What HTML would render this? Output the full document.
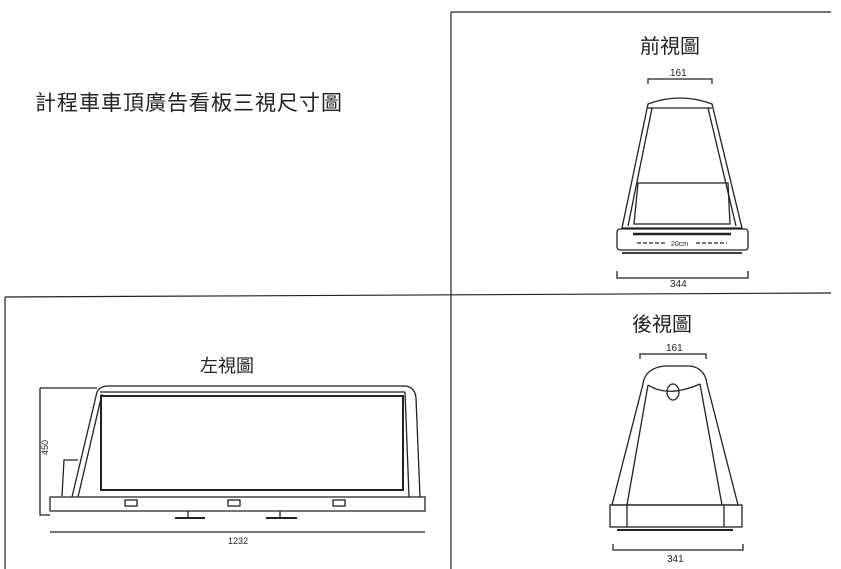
<!DOCTYPE html>
<html><head><meta charset="utf-8"><style>
html,body{margin:0;padding:0;background:#fff;}
svg{display:block;font-family:"Liberation Sans","Noto Sans CJK TC",sans-serif;}
</style></head><body>
<svg width="841" height="569" viewBox="0 0 841 569" xmlns="http://www.w3.org/2000/svg">
<rect width="841" height="569" fill="#fff"/>
<g stroke="#222" fill="none" stroke-width="1.2">
<line x1="451" y1="12" x2="451" y2="569"/>
<line x1="451" y1="12" x2="831" y2="12"/>
<line x1="5" y1="297" x2="831" y2="293"/>
<line x1="5" y1="297" x2="5" y2="569"/>
</g>
<text x="35" y="110" font-size="21" fill="#222" letter-spacing="1">計程車車頂廣告看板三視尺寸圖</text>
<text x="640" y="53" font-size="20" fill="#222">前視圖</text>
<text x="632" y="331" font-size="20" fill="#222">後視圖</text>
<text x="200" y="372" font-size="18" fill="#222">左視圖</text>

<g stroke="#222" fill="none" stroke-width="1.3">
<path d="M648 84 V79 H712 V84"/>
<path d="M648 104 Q680 92 712 104 L742 228 H622 Z"/>
<path d="M652 108 L628 226 M708 108 L736 226"/>
<line x1="648" y1="108" x2="712" y2="108"/>
<path d="M638 183 H728 L730 224 H634 Z"/>
<rect x="617" y="229" width="131" height="21" rx="3"/>
<line x1="633" y1="234" x2="731" y2="234" stroke-width="2.5"/>
<line x1="637" y1="243" x2="666" y2="243" stroke-dasharray="4,2"/>
<line x1="696" y1="243" x2="727" y2="243" stroke-dasharray="4,2"/>
<line x1="622" y1="253" x2="742" y2="253" stroke-width="1.8"/>
<path d="M617 271 V278 H748 V271"/>
</g>
<text x="670" y="76" font-size="10" fill="#222">161</text>
<text x="671" y="246" font-size="7" fill="#222">20cm</text>
<text x="670" y="287" font-size="10" fill="#222">344</text>

<g stroke="#222" fill="none" stroke-width="1.3">
<path d="M640 359 V354 H706 V359"/>
<path d="M643 384 Q645 368 665 366 H690 Q705 368 707 384 L738 505 H612 Z"/>
<path d="M648 385 L627 505 M700 384 L722 505"/>
<path d="M648 385 Q668 398 700 384"/>
<ellipse cx="673" cy="392" rx="6" ry="8"/>
<rect x="610" y="505" width="132" height="22"/>
<line x1="627" y1="505" x2="627" y2="527"/>
<line x1="724" y1="505" x2="724" y2="527"/>
<line x1="617" y1="530" x2="733" y2="530" stroke-width="2"/>
<path d="M613 544 V550 H743 V544"/>
</g>
<text x="666" y="351" font-size="10" fill="#222">161</text>
<text x="667" y="562" font-size="10" fill="#222">341</text>

<g stroke="#222" fill="none" stroke-width="1.3">
<path d="M40 388 H97 M40 388 V515 H50"/>
<path d="M72 497 L97 392 Q100 386 108 386 H405 Q415 387 416 398 L420 497"/>
<path d="M78 497 L102 394"/>
<path d="M62 496 L64 460 H78"/>
<line x1="100" y1="392" x2="405" y2="392"/>
<rect x="101" y="396" width="302" height="94" stroke-width="2"/>
<line x1="405" y1="392" x2="409" y2="497"/>
<path d="M50 497 H425 V511 H50 Z"/>
<rect x="125" y="500" width="12" height="6"/>
<rect x="228" y="500" width="12" height="6"/>
<rect x="333" y="500" width="12" height="6"/>
<line x1="175" y1="518" x2="205" y2="518" stroke-width="2"/>
<line x1="266" y1="518" x2="297" y2="518" stroke-width="2"/>
<line x1="188" y1="511" x2="188" y2="518"/>
<line x1="280" y1="511" x2="280" y2="518"/>
<line x1="50" y1="532" x2="425" y2="532"/>
</g>
<text x="228" y="544" font-size="9" fill="#222">1232</text>
<text x="0" y="0" font-size="9" fill="#222" transform="translate(48,455) rotate(-90)">450</text>
</svg>
</body></html>
